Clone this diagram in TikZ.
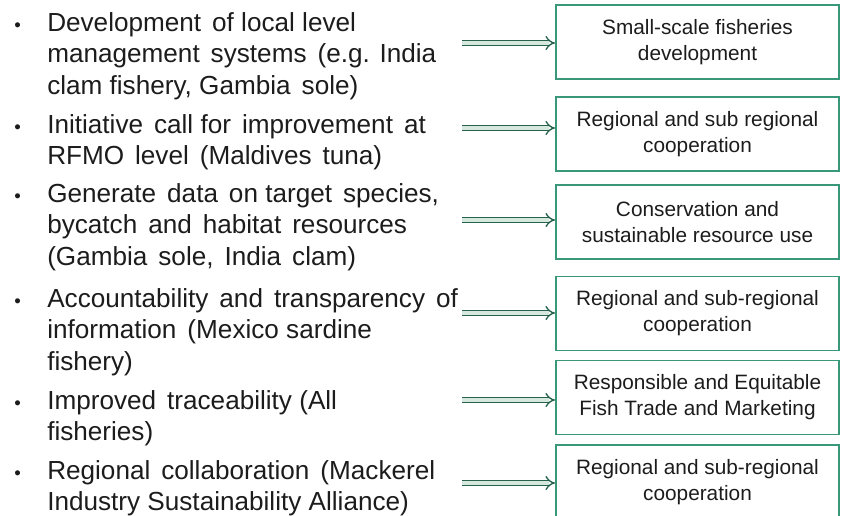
\documentclass[tikz,border=0pt]{standalone}
\usepackage{fontspec}
\setmainfont{Liberation Sans}
\usetikzlibrary{arrows.meta}
\definecolor{boxgreen}{RGB}{58,152,122}
\definecolor{arrdark}{RGB}{38,98,78}
\definecolor{arrfill}{RGB}{214,232,222}
\definecolor{txt}{RGB}{28,28,28}
\newcommand\wsp{\hspace{0.42em}}
\begin{document}
\begin{tikzpicture}[x=0.75pt,y=-0.75pt,
  item/.style={anchor=base west,inner sep=0pt,text=txt,
    font=\fontsize{19.6}{23.8}\selectfont},
  bul/.style={anchor=base west,inner sep=0pt,text=txt,font=\fontsize{14}{18}\selectfont},
  goal/.style={draw=boxgreen,line width=1.3pt,minimum width=212.5pt,minimum height=55.5pt,
    inner sep=0pt,align=center,text=txt,font=\fontsize{15.6}{19.5}\selectfont},
  link/.style={draw=arrdark,double=arrfill,double distance=2.6pt,line width=1pt,
    -{Implies[length=5pt]}}
]
\useasboundingbox (0,0) rectangle (841,515);
% left items
\node[bul] (b1) at (14,31) {•};
\node[item] (t1) at (47,31) {\parbox[t]{430pt}{Development\wsp of local level\\management\wsp systems\wsp (e.g. India\\clam fishery, Gambia\wsp sole)}};
\node[bul] (b2) at (14,133) {•};
\node[item] (t2) at (47,133) {\parbox[t]{430pt}{Initiative\wsp call for\wsp improvement\wsp at\\RFMO\wsp level\wsp (Maldives\wsp tuna)}};
\node[bul] (b3) at (14,202) {•};
\node[item] (t3) at (47,202) {\parbox[t]{430pt}{Generate\wsp data\wsp on target\wsp species,\\bycatch\wsp and\wsp habitat\wsp resources\\(Gambia\wsp sole,\wsp India\wsp clam)}};
\node[bul] (b4) at (14,307) {•};
\node[item] (t4) at (47,307) {\parbox[t]{430pt}{Accountability\wsp and\wsp transparency\wsp of\\information\wsp (Mexico sardine\\fishery)}};
\node[bul] (b5) at (14,409) {•};
\node[item] (t5) at (47,409) {\parbox[t]{430pt}{Improved\wsp traceability (All\\fisheries)}};
\node[bul] (b6) at (14,479) {•};
\node[item] (t6) at (47,479) {\parbox[t]{430pt}{Regional\wsp collaboration\wsp (Mackerel\\Industry Sustainability Alliance)}};
% right boxes
\node[goal] (g1) at (697.5,42) {Small-scale fisheries\\development};
\node[goal] (g2) at (697.5,134) {Regional and sub regional\\cooperation};
\node[goal] (g3) at (697.5,222) {Conservation and\\sustainable resource use};
\node[goal] (g4) at (697.5,313.5) {Regional and sub-regional\\cooperation};
\node[goal] (g5) at (697.5,397.5) {Responsible and Equitable\\Fish Trade and Marketing};
\node[goal] (g6) at (697.5,482) {Regional and sub-regional\\cooperation};
% arrow starts
\coordinate (s1) at (462,43);
\coordinate (s2) at (462,128);
\coordinate (s3) at (462,220);
\coordinate (s4) at (462,313);
\coordinate (s5) at (462,400);
\coordinate (s6) at (462,483);
\foreach \i in {1,...,6}{
  \draw[link] (s\i) -- (s\i -| g\i.west);
}
\end{tikzpicture}
\end{document}
